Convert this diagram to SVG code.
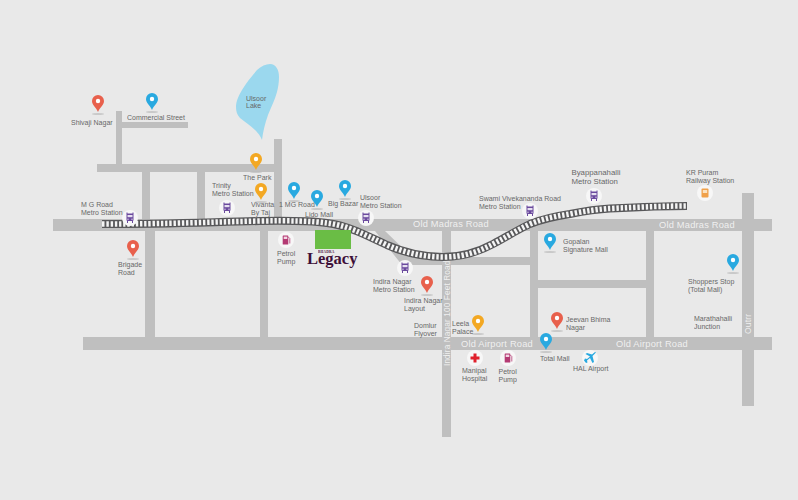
<svg xmlns="http://www.w3.org/2000/svg" width="798" height="500" viewBox="0 0 798 500">
<style>
text{font-family:"Liberation Sans",Arial,sans-serif;font-size:7px;fill:#666;opacity:.98}
.rd{font-size:9.300px;fill:#f1f1f1;letter-spacing:.2px}
.road{fill:#bfbfbf}
.ic{fill:#f7f7f7}
</style>
<defs>
<g id="pinshadow"><ellipse cx="0" cy="2" rx="6" ry="1" fill="#bbb" opacity=".7"/></g>
<path id="pinhead" d="M0 0C-2-5-6-7-6-11A6 6 0 1 1 6-11C6-7 2-5 0 0Z"/>
<g id="pin-red"><use href="#pinshadow"/><use href="#pinhead" fill="#e8604c"/><circle cy="-11" r="2.2" fill="#fff"/></g>
<g id="pin-blue"><use href="#pinshadow"/><use href="#pinhead" fill="#29a9e0"/><circle cy="-11" r="2.2" fill="#fff"/></g>
<g id="pin-orange"><use href="#pinshadow"/><use href="#pinhead" fill="#f3a823"/><circle cy="-11" r="2.2" fill="#fff"/></g>
<g id="metro"><circle r="8" class="ic"/><rect x="-3.5" y="-4.5" width="7" height="7.500" rx="1" fill="#6b4a9e"/><rect x="-2.5" y="-3" width="5" height="2.200" fill="#e6e0f0"/><path d="M-3-5.500V-4M3-5.500V-4M-2.500 3V5M2.500 3V5" stroke="#6b4a9e" stroke-width="1"/><circle cx="-2" cy="1.200" r=".6" fill="#fff"/><circle cx="2" cy="1.200" r=".6" fill="#fff"/></g>
<g id="petrol"><circle r="8" class="ic"/><rect x="-3.300" y="-4.500" width="5.600" height="9" rx=".6" fill="#b43a73"/><rect x="-2.300" y="-3.400" width="3.600" height="2.400" fill="#f2d6e3"/><path d="M2.300-3L3.800-1.500V3.500" stroke="#b43a73" stroke-width=".8" fill="none"/></g>
</defs>
<rect width="798" height="500" fill="#e9e9e9"/>
<g id="lake"><path d="M270 64C276 64 279 70 279 77C279 83 278 88 277 92C275 100 271 107 268 115C265 123 263 132 262 140C260 135 258 133 255 130C251 126 245 122 240 118C237 115 236 111 236 107C236 101 239 95 242 90C246 83 252 76 257 70C261 66 266 64 270 64Z" fill="#9bd8ee"/></g>
<g id="roads">
<rect class="road" x="53" y="219" width="719" height="12"/>
<rect class="road" x="83" y="337" width="689" height="13"/>
<rect class="road" x="97" y="164" width="185" height="8"/>
<rect class="road" x="116" y="111" width="6" height="53"/>
<rect class="road" x="122" y="122" width="66" height="6"/>
<rect class="road" x="142" y="172" width="8" height="47"/>
<rect class="road" x="197" y="172" width="8" height="47"/>
<rect class="road" x="274" y="139" width="8" height="80"/>
<rect class="road" x="145" y="231" width="10" height="107"/>
<rect class="road" x="260" y="231" width="8" height="107"/>
<rect class="road" x="442" y="231" width="9" height="206"/>
<rect class="road" x="530" y="231" width="8" height="106"/>
<rect class="road" x="646" y="231" width="8" height="106"/>
<rect class="road" x="538" y="280" width="108" height="8"/>
<path class="road" d="M385 231H375L402 265H530V257H412Z"/>
<rect class="road" x="742" y="193" width="12" height="213"/>
</g>
<g id="connectors">
<path id="track" d="M102 224C170 224 210 222 260 221C290 220.500 312 221 327 223C345 225 362 233 387 245C405 253 425 257 443 257C465 257 480 251 493 244C505 238 515 231 530 224C545 218 557 216 570 214C585 211 600 209 610 208.500C640 207 665 206 687 206" fill="none" stroke="#58585a" stroke-width="8"/>
<path d="M102 224C170 224 210 222 260 221C290 220.500 312 221 327 223C345 225 362 233 387 245C405 253 425 257 443 257C465 257 480 251 493 244C505 238 515 231 530 224C545 218 557 216 570 214C585 211 600 209 610 208.500C640 207 665 206 687 206" fill="none" stroke="#f4f4f4" stroke-width="5.500" stroke-dasharray="2.400 1.800"/>
</g>
<g id="site"><rect x="315" y="230" width="36" height="19" fill="#6abd45"/>
<text x="318" y="253" style="font-family:'Liberation Serif',serif;font-size:3.500px;font-weight:bold;fill:#4a1140;letter-spacing:.2px">BHADRA</text>
<text x="307" y="264" style="font-family:'Liberation Serif',serif;font-size:16.500px;font-weight:bold;fill:#3a0b35">Legacy</text></g>
<g id="road-labels">
<text class="rd" x="413" y="227">Old Madras Road</text>
<text class="rd" x="659" y="228">Old Madras Road</text>
<text class="rd" x="461" y="347">Old Airport Road</text>
<text class="rd" x="616" y="347">Old Airport Road</text>
<text class="rd" style="font-size:8.300px;letter-spacing:.1px" transform="translate(450 366) rotate(-90)">Indira Nagar 100 Feet Road</text>
<text class="rd" style="font-size:8.500px" transform="translate(751 334) rotate(-90)">Outrr</text>
</g>
<g id="n-shivaji"><use href="#pin-red" x="98" y="112"/><text x="71" y="125">Shivaji Nagar</text></g>
<g id="n-commercial"><use href="#pin-blue" x="152" y="110"/><text x="127" y="120">Commercial Street</text></g>
<g id="n-lake"><text x="246" y="100.500">Ulsoor</text><text x="246" y="108">Lake</text></g>
<g id="n-park"><use href="#pin-orange" x="256" y="170"/><text x="243" y="180">The Park</text></g>
<g id="n-vivanta"><use href="#pin-orange" x="261" y="200"/><text x="251" y="207">Vivanta</text><text x="251" y="215">By Taj</text></g>
<g id="n-trinity"><use href="#metro" x="227" y="208"/><text x="212" y="188">Trinity</text><text x="212" y="196">Metro Station</text></g>
<g id="n-mg"><use href="#metro" x="130" y="218"/><text x="81" y="207">M G Road</text><text x="81" y="214.500">Metro Station</text></g>
<g id="n-1mg"><use href="#pin-blue" x="294" y="199"/><text x="279" y="207">1 MG Road</text></g>
<g id="n-lido"><use href="#pin-blue" x="317" y="207"/><text x="305" y="217">Lido Mall</text></g>
<g id="n-bigbazar"><use href="#pin-blue" x="345" y="197"/><text x="328" y="206">Big Bazar</text></g>
<g id="n-ulsoor"><use href="#metro" x="366" y="218"/><text x="360" y="200">Ulsoor</text><text x="360" y="208">Metro Station</text></g>
<g id="n-brigade"><use href="#pin-red" x="133" y="257"/><text x="118" y="267">Brigade</text><text x="118" y="275">Road</text></g>
<g id="n-petrol1"><use href="#petrol" x="286" y="240"/><text x="277" y="256">Petrol</text><text x="277" y="263.500">Pump</text></g>
<g id="n-indiram"><use href="#metro" x="405" y="268"/><text x="373" y="284">Indira Nagar</text><text x="373" y="291.500">Metro Station</text></g>
<g id="n-indiral"><use href="#pin-red" x="427" y="293"/><text x="404" y="303">Indira Nagar</text><text x="404" y="311">Layout</text></g>
<g id="n-domlur"><text x="414" y="328">Domlur</text><text x="414" y="336">Flyover</text></g>
<g id="n-leela"><use href="#pin-orange" x="478" y="332"/><text x="452" y="326">Leela</text><text x="452" y="333.500">Palace</text></g>
<g id="n-manipal"><circle cx="475" cy="358" r="8" class="ic"/><path d="M473.500 353.500h3v3h3v3h-3v3h-3v-3h-3v-3h3z" fill="#e0202c"/><text x="462" y="373">Manipal</text><text x="462" y="380.500">Hospital</text></g>
<g id="n-petrol2"><use href="#petrol" x="508" y="358"/><text x="498.500" y="374">Petrol</text><text x="498.500" y="381.500">Pump</text></g>
<g id="n-total"><use href="#pin-blue" x="546" y="350"/><text x="540" y="361">Total Mall</text></g>
<g id="n-jeevan"><use href="#pin-red" x="557" y="329"/><text x="566" y="322">Jeevan Bhima</text><text x="566" y="329.500">Nagar</text></g>
<g id="n-hal"><circle cx="590" cy="358" r="8" class="ic"/><path d="M596 352.500L592.500 356L594 362L592.500 363L590 358L587 360.500L587.500 362.500L586 363L584 360.500L585 358.500L587 359L590 356.500L585.500 354L587 353L592 354.500L595 352Z" fill="#29a9e0"/><text x="573" y="371">HAL Airport</text></g>
<g id="n-swami"><use href="#metro" x="530" y="211"/><text x="479" y="201">Swami Vivekananda Road</text><text x="479" y="208.500">Metro Station</text></g>
<g id="n-byappan"><use href="#metro" x="594" y="196"/><text x="571.500" y="175" style="font-size:7.800px">Byappanahalli</text><text x="571.500" y="184" style="font-size:7.800px">Metro Station</text></g>
<g id="n-kr"><circle cx="705" cy="193" r="8" class="ic"/><rect x="701.500" y="188.500" width="7" height="9" rx="1" fill="#f0a14a"/><rect x="702.800" y="190" width="4.400" height="3" fill="#fbe2c0"/><text x="686" y="175">KR Puram</text><text x="686" y="183">Railway Station</text></g>
<g id="n-gopalan"><use href="#pin-blue" x="550" y="250"/><text x="563" y="244">Gopalan</text><text x="563" y="251.500">Signature Mall</text></g>
<g id="n-shoppers"><use href="#pin-blue" x="733" y="271"/><text x="688" y="284">Shoppers Stop</text><text x="688" y="292">(Total Mall)</text></g>
<g id="n-marathahalli"><text x="694" y="321">Marathahalli</text><text x="694" y="329">Junction</text></g>
</svg>
